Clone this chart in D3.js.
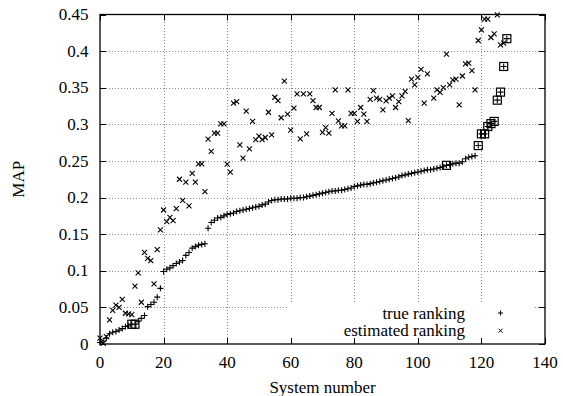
<!DOCTYPE html>
<html>
<head>
<meta charset="utf-8">
<script src="https://cdn.jsdelivr.net/npm/d3@7"></script>
<style>
  html, body { margin: 0; padding: 0; background: #fff; }
  svg { display: block; }
  svg text { font-family: "Liberation Serif", "Times New Roman", Times, "DejaVu Serif", serif; }
</style>
</head>
<body>
<div id="chart"></div>
<script>
// MAP per system, true ranking (sorted), index = system number
const trueRanking = [
  0.002, 0.004, 0.008, 0.014, 0.016, 0.017, 0.019, 0.021, 0.024, 0.025,
  0.027, 0.027, 0.031, 0.035, 0.039, 0.051, 0.054, 0.057, 0.064, 0.076,
  0.099, 0.102, 0.104, 0.107, 0.110, 0.112, 0.114, 0.121, 0.125, 0.131,
  0.133, 0.135, 0.136, 0.137, 0.158, 0.166, 0.169, 0.172, 0.173, 0.175,
  0.177, 0.178, 0.179, 0.181, 0.182, 0.183, 0.184, 0.185, 0.186, 0.187,
  0.188, 0.190, 0.191, 0.194, 0.196, 0.197, 0.197, 0.198, 0.198, 0.198,
  0.199, 0.199, 0.199, 0.200, 0.200, 0.201, 0.202, 0.203, 0.204, 0.205,
  0.206, 0.207, 0.208, 0.209, 0.209, 0.210, 0.210, 0.211, 0.212, 0.213,
  0.215, 0.216, 0.217, 0.218, 0.218, 0.219, 0.220, 0.221, 0.222, 0.223,
  0.224, 0.225, 0.226, 0.227, 0.228, 0.230, 0.231, 0.232, 0.233, 0.234,
  0.235, 0.236, 0.237, 0.238, 0.238, 0.239, 0.240, 0.241, 0.242, 0.244,
  0.245, 0.246, 0.247, 0.247, 0.249, 0.253, 0.255, 0.256, 0.257, 0.271,
  0.287, 0.287, 0.297, 0.301, 0.304, 0.333, 0.344, 0.379, 0.417
];

// [system, MAP] for the estimated ranking
const estimatedRanking = [
  [0, 0.008], [1, 0.001], [2, 0.010], [3, 0.033], [4, 0.046], [5, 0.053], [6, 0.050],
  [7, 0.061], [8, 0.042], [9, 0.041], [10, 0.040], [11, 0.079], [12, 0.097], [13, 0.057],
  [14, 0.125], [15, 0.117], [16, 0.114], [17, 0.082], [18, 0.129], [19, 0.156], [20, 0.183],
  [21, 0.167], [22, 0.173], [23, 0.1685], [24, 0.185], [25, 0.225], [26, 0.196], [27, 0.221],
  [28, 0.1886], [29, 0.233], [30, 0.221], [31, 0.246], [32, 0.246], [33, 0.208], [34, 0.2797],
  [35, 0.263], [36, 0.288], [37, 0.288], [38, 0.3006], [39, 0.3006], [40, 0.2456], [41, 0.2346],
  [42, 0.329], [43, 0.331], [44, 0.272], [45, 0.2537], [46, 0.318], [47, 0.2665], [48, 0.304],
  [49, 0.279], [50, 0.284], [51, 0.279], [52, 0.282], [53, 0.3165], [54, 0.2856], [55, 0.337],
  [56, 0.3325], [57, 0.309], [58, 0.359], [59, 0.314], [60, 0.292], [61, 0.322], [62, 0.3416],
  [63, 0.280], [64, 0.3416], [65, 0.287], [66, 0.3416], [67, 0.3325], [68, 0.323], [69, 0.323],
  [70, 0.289], [71, 0.2956], [72, 0.288], [73, 0.315], [74, 0.347], [75, 0.3047], [76, 0.298],
  [77, 0.298], [78, 0.347], [79, 0.315], [80, 0.315], [81, 0.304], [82, 0.323], [83, 0.314],
  [84, 0.304], [85, 0.334], [86, 0.346], [87, 0.3357], [88, 0.334], [89, 0.3197], [90, 0.332],
  [91, 0.3357], [92, 0.339], [93, 0.323], [94, 0.331], [95, 0.339], [96, 0.345], [97, 0.305],
  [98, 0.3617], [99, 0.354], [100, 0.364], [101, 0.375], [102, 0.329], [103, 0.369], [105, 0.3357],
  [106, 0.347], [107, 0.3435], [108, 0.350], [109, 0.396], [110, 0.354], [111, 0.3607], [112, 0.3617],
  [113, 0.3266], [114, 0.366], [115, 0.3826], [116, 0.3836], [117, 0.3735], [118, 0.347], [119, 0.4145],
  [120, 0.429], [121, 0.4436], [122, 0.4436], [123, 0.4186], [124, 0.4236], [125, 0.4496], [126, 0.4086],
  [127, 0.411]
];

// systems drawn with a box around the true ranking point
const boxedSystems = [10, 11, 109, 119, 120, 121, 122, 123, 124, 125, 126, 127, 128];

const xTicks = [0, 20, 40, 60, 80, 100, 120, 140];
const yTicks = [0, 0.05, 0.1, 0.15, 0.2, 0.25, 0.3, 0.35, 0.4, 0.45];
const yTickLabels = ["0", "0.05", "0.1", "0.15", "0.2", "0.25", "0.3", "0.35", "0.4", "0.45"];

const legendLabels = ["true ranking", "estimated ranking"];

////////////////////////////////////////////////////////////////////////////////////

const WIDTH = 563;
const HEIGHT = 396;
const BLACK = "#000000";
const SERIF = "'Liberation Serif', 'Times New Roman', Times, serif";
const margin = { top: 14.5, right: 18, bottom: 52, left: 100 };
const FONT_SIZE = 17;

const svg = d3
  .select("#chart")
  .append("svg")
  .attr("width", WIDTH)
  .attr("height", HEIGHT)
  .attr("font-family", SERIF);

const x = d3.scaleLinear().domain([0, 140]).range([margin.left, WIDTH - margin.right]);
const y = d3.scaleLinear().domain([0, 0.45]).range([HEIGHT - margin.bottom, margin.top]);

const [x0, x1] = x.range();
const [y0, y1] = y.range();

////////////////////////////////////////////////////////////////////////////////////
// grid

const grid = svg.append("g").attr("stroke", "#888").attr("stroke-width", 1).attr("stroke-dasharray", "1,2");

grid
  .selectAll("line.gx")
  .data(xTicks.slice(1, -1))
  .enter()
  .append("line")
  .attr("x1", (d) => Math.round(x(d)) + 0.5)
  .attr("x2", (d) => Math.round(x(d)) + 0.5)
  .attr("y1", y0)
  .attr("y2", y1);

grid
  .selectAll("line.gy")
  .data(yTicks.slice(1, -1))
  .enter()
  .append("line")
  .attr("y1", (d) => Math.round(y(d)) + 0.5)
  .attr("y2", (d) => Math.round(y(d)) + 0.5)
  .attr("x1", x0)
  .attr("x2", x1);

// legend background hides the grid behind it
svg.append("rect").attr("x", 287).attr("y", 304).attr("width", 247).attr("height", y0 - 304).attr("fill", "#fff");

////////////////////////////////////////////////////////////////////////////////////
// points

const plus = (g, cx, cy, r) =>
  g.append("path").attr("d", `M${cx - r},${cy}H${cx + r}M${cx},${cy - r}V${cy + r}`);
const cross = (g, cx, cy, r) =>
  g.append("path").attr("d", `M${cx - r},${cy - r}L${cx + r},${cy + r}M${cx - r},${cy + r}L${cx + r},${cy - r}`);

const marks = svg.append("g").attr("stroke", BLACK).attr("stroke-width", 1.1).attr("fill", "none");

trueRanking.forEach((v, i) => plus(marks, x(i), y(v), 3));
estimatedRanking.forEach(([s, v]) => cross(marks, x(s), y(v), 2.5));

marks
  .selectAll("rect.box")
  .data(boxedSystems)
  .enter()
  .append("rect")
  .attr("x", (d) => x(d) - 4)
  .attr("y", (d) => y(trueRanking[d]) - 4)
  .attr("width", 8)
  .attr("height", 8)
  .attr("stroke-width", 1.2);

////////////////////////////////////////////////////////////////////////////////////
// border, ticks and labels

svg
  .append("rect")
  .attr("x", x0)
  .attr("y", y1)
  .attr("width", x1 - x0)
  .attr("height", y0 - y1)
  .attr("fill", "none")
  .attr("stroke", BLACK)
  .attr("stroke-width", 1.3);

const ticks = svg.append("g").attr("stroke", BLACK).attr("stroke-width", 1);
const TICK = 6;

xTicks.forEach((d) => {
  const px = Math.round(x(d)) + 0.5;
  ticks.append("line").attr("x1", px).attr("x2", px).attr("y1", y0).attr("y2", y0 - TICK);
  ticks.append("line").attr("x1", px).attr("x2", px).attr("y1", y1).attr("y2", y1 + TICK);
});
yTicks.forEach((d) => {
  const py = Math.round(y(d)) + 0.5;
  ticks.append("line").attr("x1", x0).attr("x2", x0 + TICK).attr("y1", py).attr("y2", py);
  ticks.append("line").attr("x1", x1).attr("x2", x1 - TICK).attr("y1", py).attr("y2", py);
});

const labels = svg.append("g").attr("font-size", FONT_SIZE).attr("font-family", SERIF).attr("fill", BLACK);

labels
  .selectAll("text.xt")
  .data(xTicks)
  .enter()
  .append("text")
  .attr("x", (d) => x(d))
  .attr("y", 367.5)
  .attr("text-anchor", "middle")
  .text((d) => d);

labels
  .selectAll("text.yt")
  .data(yTicks)
  .enter()
  .append("text")
  .attr("x", 88.5)
  .attr("y", (d) => y(d))
  .attr("dy", "0.33em")
  .attr("text-anchor", "end")
  .text((d, i) => yTickLabels[i]);

labels
  .append("text")
  .attr("x", (x0 + x1) / 2)
  .attr("y", 392.5)
  .attr("text-anchor", "middle")
  .text("System number");

labels
  .append("text")
  .attr("transform", `translate(24,${(y0 + y1) / 2}) rotate(-90)`)
  .attr("text-anchor", "middle")
  .text("MAP");

////////////////////////////////////////////////////////////////////////////////////
// legend

const legend = svg.append("g").attr("font-family", SERIF);
legendLabels.forEach((label, i) => {
  const ly = 313 + i * 17.7;
  legend
    .append("text")
    .attr("x", 465)
    .attr("y", ly)
    .attr("dy", "0.33em")
    .attr("text-anchor", "end")
    .attr("font-size", FONT_SIZE)
    .text(label);
  const g = legend.append("g").attr("stroke", BLACK).attr("stroke-width", 1).attr("fill", "none");
  if (i === 0) plus(g, 500.5, ly, 2.5);
  else cross(g, 500.5, ly, 2);
});
</script>
</body>
</html>
